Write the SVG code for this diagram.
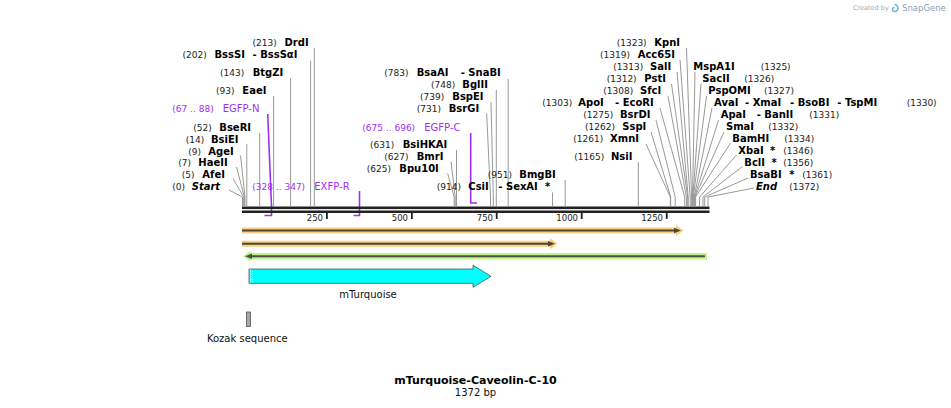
<svg xmlns="http://www.w3.org/2000/svg" width="951" height="408" viewBox="0 0 951 408">
<style>
text{font-family:"DejaVu Sans","Liberation Sans",sans-serif}
.n{font-size:9px;fill:#222}
.e{font-size:10px;font-weight:bold;fill:#000}
.i{font-style:italic}
.p{font-size:10px;fill:#a030f0}
.pn{font-size:9px;fill:#a030f0}
.ld{stroke:#999;stroke-width:1;fill:none}
.pl{stroke:#a030f0;stroke-width:1.6;fill:none}
.tk{font-size:8.5px;fill:#222;text-anchor:end}
.f{font-size:10px;fill:#111;text-anchor:middle}
</style>
<rect width="951" height="408" fill="#fff"/>
<g id="credit">
<text x="853" y="10" style="font-size:6.5px;fill:#aaa">Created by</text>
<path d="M894.5 4.5 a3.5 3.5 0 1 1 0 7 a2 2 0 0 1 0-4" fill="none" stroke="#6ab0e0" stroke-width="1.5"/>
<text x="902" y="11" style="font-size:8.5px;fill:#8aa0b4">SnapGene</text>
</g>
<g id="connectors">
<path class="ld" d="M314.3 48V206"/>
<path class="ld" d="M310.6 61V206"/>
<path class="ld" d="M290.6 78V206"/>
<path class="ld" d="M273.6 96V206"/>
<path class="ld" d="M259.7 133V206"/>
<path class="ld" d="M246.8 144V206"/>
<path class="ld" d="M240.5 155.5L245 197V206"/>
<path class="ld" d="M236.5 167L244.4 197V206"/>
<path class="ld" d="M233 178.5L243.7 197V206"/>
<path class="ld" d="M229 190L242.5 197V206"/>
<path class="ld" d="M508.2 79V206"/>
<path class="ld" d="M496.3 90V206"/>
<path class="ld" d="M491 102L493.3 197V206"/>
<path class="ld" d="M486.7 113.5L490.5 197V206"/>
<path class="ld" d="M456.5 150V206"/>
<path class="ld" d="M451 161.5L455.2 197V206"/>
<path class="ld" d="M447.7 173.5L454.2 197V206"/>
<path class="ld" d="M552.5 192.5V206"/>
<path class="ld" d="M565.2 180V206"/>
<path class="ld" d="M686.5 48L691.6 197V206"/>
<path class="ld" d="M680 60L690.2 197V206"/>
<path class="ld" d="M677 72L688.2 197V206"/>
<path class="ld" d="M671.5 84L687.7 197V206"/>
<path class="ld" d="M668 96L686.4 197V206"/>
<path class="ld" d="M660 108L684.7 197V206"/>
<path class="ld" d="M656 120L675.2 197V206"/>
<path class="ld" d="M651 132L670.7 197V206"/>
<path class="ld" d="M646 144L670.3 197V206"/>
<path class="ld" d="M638.3 162V206"/>
<path class="ld" d="M695 72L692.5 197V206"/>
<path class="ld" d="M701 84L692.9 197V206"/>
<path class="ld" d="M706.5 96L693.3 197V206"/>
<path class="ld" d="M712 108L694.2 197V206"/>
<path class="ld" d="M718.5 120L694.6 197V206"/>
<path class="ld" d="M724 132L694.9 197V206"/>
<path class="ld" d="M730.5 143L695.6 197V206"/>
<path class="ld" d="M736.5 155L699.6 197V206"/>
<path class="ld" d="M742.5 166.5L703 197V206"/>
<path class="ld" d="M748 178L704.7 197V206"/>
<path class="ld" d="M754 188L708 197V206"/>
<path class="pl" d="M267.7 114L271.5 206V215.5H264.5"/>
<path class="pl" d="M359.5 191V215.5H353.5"/>
<path class="pl" d="M470.7 133V203H477"/>
</g>
<g id="backbone">
<rect x="242" y="206.5" width="467.5" height="2.6" fill="#222"/>
<rect x="242" y="210.5" width="467.5" height="2.5" fill="#222"/>
<rect x="326" y="213" width="1.8" height="6" fill="#222"/>
<rect x="411" y="213" width="1.8" height="6" fill="#222"/>
<rect x="495.8" y="213" width="1.8" height="6" fill="#222"/>
<rect x="580.8" y="213" width="1.8" height="6" fill="#222"/>
<rect x="665.8" y="213" width="1.8" height="6" fill="#222"/>
<text class="tk" x="323" y="221">250</text>
<text class="tk" x="408" y="221">500</text>
<text class="tk" x="493" y="221">750</text>
<text class="tk" x="578" y="221">1000</text>
<text class="tk" x="663" y="221">1250</text>
</g>
<g id="feature-orange-1">
<path d="M242 227.5H676V225L683.5 230.5L676 236V233.5H242Z" fill="#f9cf80"/>
<path d="M242 230.5H676" stroke="#4d4538" stroke-width="2"/>
<path d="M674 227.8L681 230.5L674 233.2Z" fill="#4d4538"/>
</g>
<g id="feature-orange-2">
<path d="M242 240.7H550V238.2L557.5 243.7L550 249.2V246.7H242Z" fill="#f9cf80"/>
<path d="M242 243.7H550" stroke="#4d4538" stroke-width="2"/>
<path d="M548 241L555 243.7L548 246.4Z" fill="#4d4538"/>
</g>
<g id="feature-green">
<path d="M707 253H250.5V250.8L243 256.3L250.5 261.8V259.5H707Z" fill="#c2f28e"/>
<path d="M705 256.3H250" stroke="#4a5040" stroke-width="2"/>
<path d="M252 253.6L245 256.3L252 259Z" fill="#4a5040"/>
</g>
<g id="mTurquoise">
<path d="M249 269H473V265.3L491 276.3L473 287.3V283.3H249Z" fill="#00ffff" stroke="#2f5f5f" stroke-width="0.8"/>
<path d="M250.5 269.5V283" stroke="#fff" stroke-width="1" stroke-dasharray="1 1"/>
<path d="M252.5 270V283" stroke="#fff" stroke-width="1" stroke-dasharray="1 1" stroke-dashoffset="1"/>
<text class="f" x="368" y="298">mTurquoise</text>
</g>
<g id="kozak">
<rect x="246.5" y="312" width="4" height="14.5" fill="#a2a6ae" stroke="#555" stroke-width="0.8"/>
<text class="f" x="247.3" y="342">Kozak sequence</text>
</g>
<g id="title">
<text x="475.5" y="384" style="font-size:11px;font-weight:bold;text-anchor:middle;fill:#000">mTurquoise-Caveolin-C-10</text>
<text x="475.5" y="396" style="font-size:10px;text-anchor:middle;fill:#111">1372 bp</text>
</g>
<g id="DrdI"><text class="n" x="252.5" y="46">(213)</text><text class="e" x="284.5" y="46">DrdI</text></g>
<g id="BssSI"><text class="n" x="182.5" y="58">(202)</text><text class="e" x="214.5" y="58">BssSI</text><text class="e" x="252.5" y="58">- BssSαI</text></g>
<g id="BtgZI"><text class="n" x="220" y="76">(143)</text><text class="e" x="252.7" y="76">BtgZI</text></g>
<g id="EaeI"><text class="n" x="216" y="94">(93)</text><text class="e" x="242.3" y="94">EaeI</text></g>
<g id="EGFP-N"><text class="pn" x="172.3" y="112">(67 .. 88)</text><text class="p" x="222.7" y="112">EGFP-N</text></g>
<g id="BseRI"><text class="n" x="193.3" y="131">(52)</text><text class="e" x="219.3" y="131">BseRI</text></g>
<g id="BsiEI"><text class="n" x="185.7" y="143">(14)</text><text class="e" x="211" y="143">BsiEI</text></g>
<g id="AgeI"><text class="n" x="188.3" y="154.5">(9)</text><text class="e" x="208.3" y="154.5">AgeI</text></g>
<g id="HaeII"><text class="n" x="178.3" y="166.3">(7)</text><text class="e" x="198.3" y="166.3">HaeII</text></g>
<g id="AfeI"><text class="n" x="181.7" y="178">(5)</text><text class="e" x="202.3" y="178">AfeI</text></g>
<g id="Start"><text class="n" x="172.3" y="190">(0)</text><text class="e i" x="191.7" y="190">Start</text></g>
<g id="EXFP-R"><text class="pn" x="252.3" y="190">(328 .. 347)</text><text class="p" x="314.3" y="190">EXFP-R</text></g>
<g id="BsaAI"><text class="n" x="384.3" y="76">(783)</text><text class="e" x="416.7" y="76">BsaAI</text><text class="e" x="460.7" y="76">- SnaBI</text></g>
<g id="BglII"><text class="n" x="431" y="88">(748)</text><text class="e" x="462.3" y="88">BglII</text></g>
<g id="BspEI"><text class="n" x="420" y="100">(739)</text><text class="e" x="452.3" y="100">BspEI</text></g>
<g id="BsrGI"><text class="n" x="416.7" y="112">(731)</text><text class="e" x="448.7" y="112">BsrGI</text></g>
<g id="EGFP-C"><text class="pn" x="362.3" y="131">(675 .. 696)</text><text class="p" x="424.3" y="131">EGFP-C</text></g>
<g id="BsiHKAI"><text class="n" x="370" y="148">(631)</text><text class="e" x="402.7" y="148">BsiHKAI</text></g>
<g id="BmrI"><text class="n" x="384.3" y="160">(627)</text><text class="e" x="416.7" y="160">BmrI</text></g>
<g id="Bpu10I"><text class="n" x="366.7" y="172">(625)</text><text class="e" x="399.3" y="172">Bpu10I</text></g>
<g id="BmgBI"><text class="n" x="487.7" y="177.5">(951)</text><text class="e" x="519.3" y="177.5">BmgBI</text></g>
<g id="CsiI"><text class="n" x="436.7" y="190">(914)</text><text class="e" x="468.3" y="190">CsiI</text><text class="e" x="498.3" y="190">- SexAI</text><text class="e" x="545" y="190">*</text></g>
<g id="KpnI"><text class="n" x="616.7" y="46">(1323)</text><text class="e" x="654.3" y="46">KpnI</text></g>
<g id="Acc65I"><text class="n" x="600" y="58">(1319)</text><text class="e" x="637.7" y="58">Acc65I</text></g>
<g id="SalI"><text class="n" x="613.3" y="70">(1313)</text><text class="e" x="650" y="70">SalI</text></g>
<g id="PstI"><text class="n" x="606.7" y="82">(1312)</text><text class="e" x="644.3" y="82">PstI</text></g>
<g id="SfcI"><text class="n" x="603.3" y="94">(1308)</text><text class="e" x="640" y="94">SfcI</text></g>
<g id="ApoI"><text class="n" x="542.3" y="106">(1303)</text><text class="e" x="578.3" y="106">ApoI</text><text class="e" x="615" y="106">- EcoRI</text></g>
<g id="BsrDI"><text class="n" x="583.3" y="118">(1275)</text><text class="e" x="620" y="118">BsrDI</text></g>
<g id="SspI"><text class="n" x="585" y="130">(1262)</text><text class="e" x="622.3" y="130">SspI</text></g>
<g id="XmnI"><text class="n" x="573.3" y="142">(1261)</text><text class="e" x="610" y="142">XmnI</text></g>
<g id="NsiI"><text class="n" x="574.3" y="160">(1165)</text><text class="e" x="611" y="160">NsiI</text></g>
<g id="MspA1I"><text class="e" x="693.3" y="70">MspA1I</text><text class="n" x="760.7" y="70">(1325)</text></g>
<g id="SacII"><text class="e" x="702.3" y="82">SacII</text><text class="n" x="744.3" y="82">(1326)</text></g>
<g id="PspOMI"><text class="e" x="708.3" y="94">PspOMI</text><text class="n" x="764" y="94">(1327)</text></g>
<g id="AvaI"><text class="e" x="714" y="106">AvaI</text><text class="e" x="745" y="106">- XmaI</text><text class="e" x="790" y="106">- BsoBI</text><text class="e" x="837.3" y="106">- TspMI</text><text class="n" x="906.7" y="106">(1330)</text></g>
<g id="ApaI"><text class="e" x="720.7" y="118">ApaI</text><text class="e" x="756.7" y="118">- BanII</text><text class="n" x="809.3" y="118">(1331)</text></g>
<g id="SmaI"><text class="e" x="726" y="130">SmaI</text><text class="n" x="768.3" y="130">(1332)</text></g>
<g id="BamHI"><text class="e" x="732.3" y="142">BamHI</text><text class="n" x="784.3" y="142">(1334)</text></g>
<g id="XbaI"><text class="e" x="738.3" y="154">XbaI</text><text class="e" x="770" y="154">*</text><text class="n" x="783.3" y="154">(1346)</text></g>
<g id="BclI"><text class="e" x="744.3" y="166">BclI</text><text class="e" x="771.5" y="166">*</text><text class="n" x="783.3" y="166">(1356)</text></g>
<g id="BsaBI"><text class="e" x="750" y="178">BsaBI</text><text class="e" x="789.3" y="178">*</text><text class="n" x="802.3" y="178">(1361)</text></g>
<g id="End"><text class="e i" x="756" y="190">End</text><text class="n" x="789.3" y="190">(1372)</text></g>
</svg>
